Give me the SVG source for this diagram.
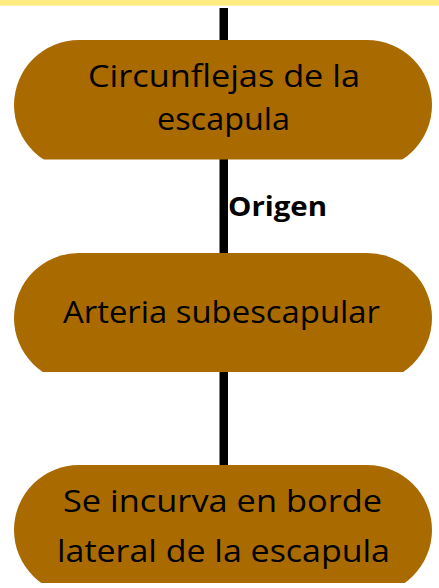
<svg xmlns="http://www.w3.org/2000/svg" width="439" height="588" viewBox="0 0 439 588">
  <style>
    .pill { fill: #A96B00; }
    .lbl { font-family: "Open Sans", "Liberation Sans", sans-serif; font-weight: 500; font-size: 31px; fill: #000; text-anchor: middle; }
    .edge { fill: #000; }
    .elbl { font-family: "Open Sans", "Noto Sans", sans-serif; font-weight: bold; font-size: 26px; fill: #000; }
  </style>
  <defs>
    <clipPath id="c1"><rect x="0" y="0" width="439" height="159.5"/></clipPath>
    <clipPath id="c2"><rect x="0" y="0" width="439" height="372"/></clipPath>
    <clipPath id="c3"><rect x="0" y="0" width="439" height="583"/></clipPath>
  </defs>
  <rect x="0" y="0" width="439" height="588" fill="#fff"/>
  <rect x="0" y="0" width="439" height="5.7" fill="#FFEC80"/>
  <g id="connectors">
    <rect class="edge" x="219.5" y="8" width="8.5" height="33"/>
    <rect class="edge" x="219.5" y="159" width="8.5" height="95"/>
    <rect class="edge" x="219.5" y="371" width="8.5" height="95"/>
    <text class="elbl" x="228" y="216" textLength="99" lengthAdjust="spacingAndGlyphs">Origen</text>
  </g>
  <g id="node1">
    <rect class="pill" x="14" y="40" width="418" height="130" rx="65" ry="65" clip-path="url(#c1)"/>
    <text class="lbl" x="224" y="87" textLength="272" lengthAdjust="spacingAndGlyphs">Circunflejas de la</text>
    <text class="lbl" x="223.5" y="130" textLength="133" lengthAdjust="spacingAndGlyphs">escapula</text>
  </g>
  <g id="node2">
    <rect class="pill" x="14" y="253" width="418" height="130" rx="65" ry="65" clip-path="url(#c2)"/>
    <text class="lbl" x="221.5" y="323" textLength="317" lengthAdjust="spacingAndGlyphs">Arteria subescapular</text>
  </g>
  <g id="node3">
    <rect class="pill" x="14" y="465" width="418" height="130" rx="65" ry="65" clip-path="url(#c3)"/>
    <text class="lbl" x="222.5" y="512" textLength="319" lengthAdjust="spacingAndGlyphs">Se incurva en borde</text>
    <text class="lbl" x="223.5" y="562" textLength="333" lengthAdjust="spacingAndGlyphs">lateral de la escapula</text>
  </g>
</svg>
